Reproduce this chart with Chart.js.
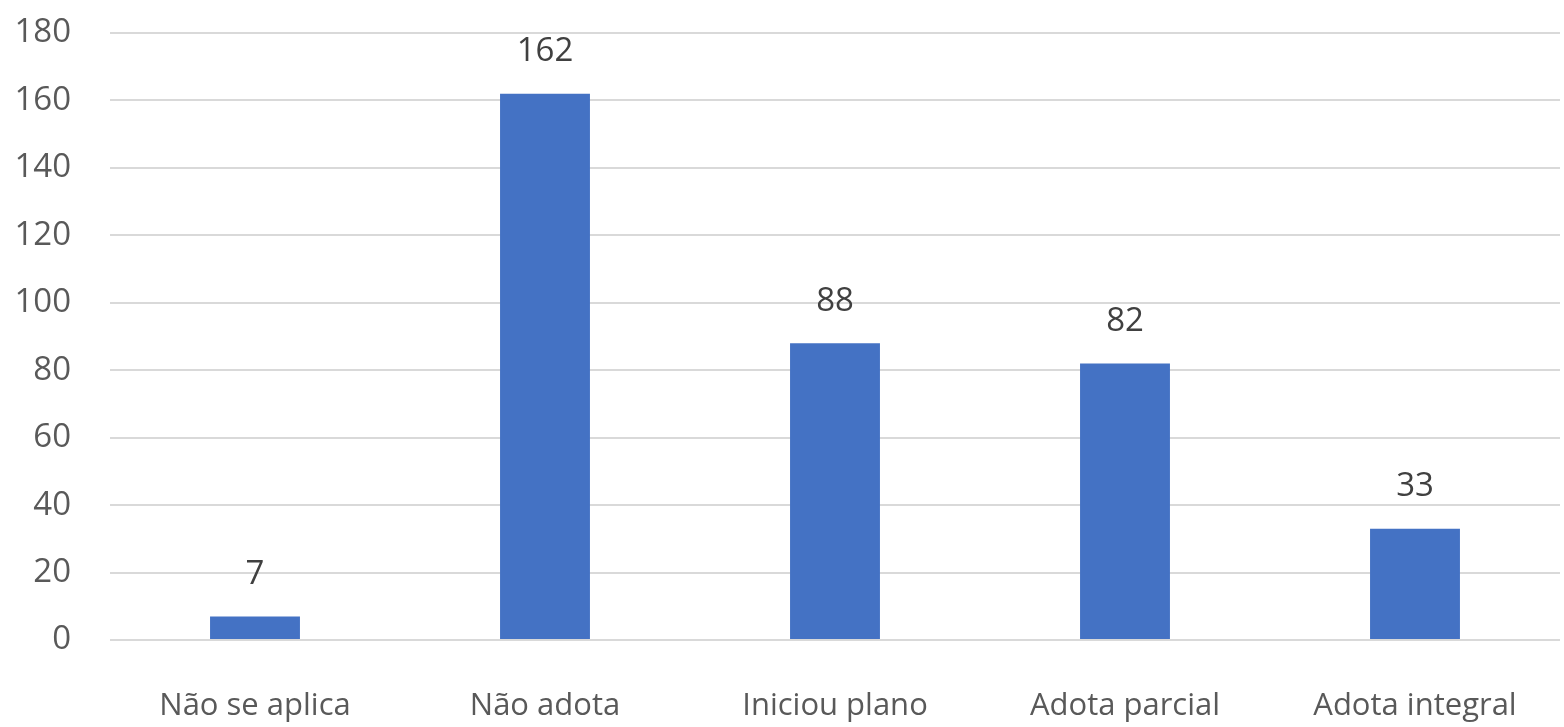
<!DOCTYPE html>
<html>
<head>
<meta charset="utf-8">
<script src="https://cdn.jsdelivr.net/npm/chart.js"></script>
<style>
  html, body { margin: 0; padding: 0; background: #fff; }
  #wrap { width: 1564px; height: 727px; }
</style>
</head>
<body>
<div id="wrap"><canvas id="chart" width="1564" height="727"></canvas></div>
<script>
const categories = ['Não se aplica', 'Não adota', 'Iniciou plano', 'Adota parcial', 'Adota integral'];
const values = [7, 162, 88, 82, 33];
const yTicks = [0, 20, 40, 60, 80, 100, 120, 140, 160, 180];

const FONT = '"Open Sans", sans-serif';

// value labels above each bar
const barLabels = {
    id: 'barLabels',
    afterDatasetsDraw(chart) {
        const ctx = chart.ctx;
        const meta = chart.getDatasetMeta(0);
        ctx.save();
        ctx.font = '33px ' + FONT;
        ctx.fillStyle = '#404040';
        ctx.textAlign = 'center';
        ctx.textBaseline = 'middle';
        meta.data.forEach((bar, i) => {
            ctx.fillText(String(values[i]), bar.x, bar.y - 42);
        });
        ctx.restore();
    }
};

new Chart(document.getElementById('chart').getContext('2d'), {
    type: 'bar',
    data: {
        labels: categories,
        datasets: [{
            data: values,
            backgroundColor: '#4472C4',
            borderWidth: 0,
            barPercentage: 0.62,
            categoryPercentage: 0.5
        }]
    },
    options: {
        responsive: false,
        animation: false,
        layout: { padding: { top: 33, right: 4, left: 0, bottom: 0 } },
        plugins: {
            legend: { display: false },
            tooltip: { enabled: false }
        },
        scales: {
            x: {
                grid: { display: false },
                border: { display: false },
                ticks: {
                    color: '#595959',
                    font: { family: FONT, size: 31 },
                    padding: 40,
                    maxRotation: 0
                },
                afterFit(scale) { scale.height = 87; }
            },
            y: {
                min: 0,
                max: 180,
                afterBuildTicks(scale) { scale.ticks = yTicks.map(v => ({ value: v })); },
                grid: { color: '#d9d9d9', lineWidth: 2, drawTicks: false },
                border: { display: false },
                ticks: {
                    color: '#595959',
                    font: { family: FONT, size: 33 },
                    padding: 39
                },
                afterFit(scale) {
                    scale.width = 110;
                    scale.paddingTop = 0;
                    scale.paddingBottom = 0;
                }
            }
        }
    },
    plugins: [barLabels]
});
</script>
</body>
</html>
